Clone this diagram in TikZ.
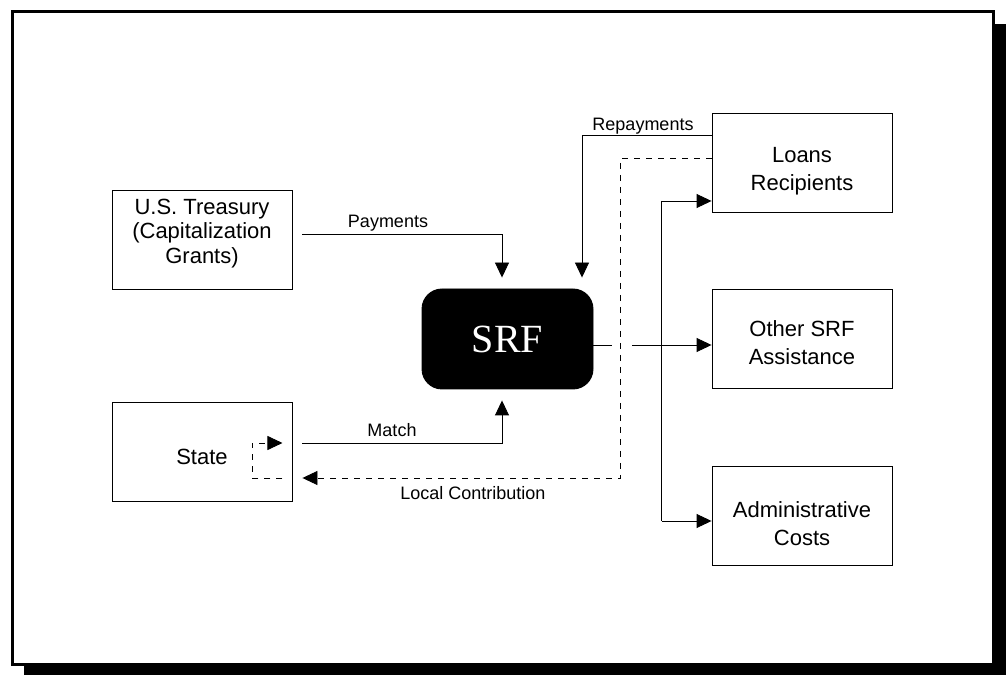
\documentclass[tikz,border=0pt]{standalone}
\usepackage{fontspec}
\setmainfont{Liberation Sans}
\newfontfamily\srffont{Liberation Serif}
\usetikzlibrary{arrows.meta}

\tikzset{
  box/.style={draw, line width=0.9pt, minimum width=180pt, minimum height=99pt,
    align=center, inner sep=0pt, font=\fontsize{22}{28}\selectfont},
  lbl/.style={inner sep=0pt, font=\fontsize{18}{22}\selectfont},
  link/.style={line width=0.9pt},
  flow/.style={link, -{Triangle[length=15pt,width=14pt]}},
  back/.style={flow, dash pattern=on 6pt off 6pt},
}

\begin{document}
\begin{tikzpicture}[x=1pt,y=1pt]
\useasboundingbox (0,0) rectangle (1006,675);

% frame and its shadow
\fill (24,0) rectangle (1006,651);
\draw[line width=3pt, fill=white] (12.5,10.5) rectangle (993.5,663);

% boxes
\node[box, font=\fontsize{22}{24.5}\selectfont, text depth=18pt] (treasury) at (202,435) {U.S. Treasury\\(Capitalization\\Grants)};
\node[box, text height=26pt] (state) at (202,223.5) {State};
\node[box, fill=black, text=white, rounded corners=20pt, minimum width=171pt, minimum height=100pt,
  font=\srffont\fontsize{40}{40}\selectfont] (srf) at (507.5,336) {SRF};
\node[box, text height=60pt] (loans) at (802,512.5) {Loans\\Recipients};
\node[box, text height=52pt] (other) at (802,336) {Other SRF\\Assistance};
\node[box, text height=60pt] (admin) at (802,159) {Administrative\\Costs};

% into the fund
\draw[flow, shorten <=10pt, shorten >=11pt] ([yshift=6pt]treasury.east) -| ([xshift=-5.5pt]srf.north);
\node[lbl, anchor=base] (lpay) at (388,447) {Payments};

\draw[flow, shorten >=11pt] ([yshift=27.5pt]loans.west) -| ([xshift=74.5pt]srf.north);
\node[lbl, anchor=base] (lrepay) at (643,544) {Repayments};

\draw[flow, shorten <=10pt, shorten >=11pt] ([yshift=8.5pt]state.east) -| ([xshift=-5.5pt]srf.south);
\node[lbl, anchor=base] (lmatch) at (392,238) {Match};

% local contribution
\draw[back, shorten >=10pt] ([yshift=4.5pt]loans.west) -- ++(-91,0) |- ([yshift=-26.5pt]state.east);
\draw[back] ([shift={(-10,-26.5)}]state.east) -| ++(-30,35) -- ++(30,0);
\node[lbl, anchor=base] (llocal) at (473,176) {Local Contribution};

% out of the fund
\coordinate (bustop) at ([shift={(-50,-38.5)}]loans.west);
\coordinate (busbot) at ([shift={(-50,-5)}]admin.west);
\draw[link] ([yshift=-6pt]srf.east) -- ++(19,0);
\draw[flow] ([shift={(39,-6)}]srf.east) -- ([yshift=-6pt]other.west);
\draw[link] (bustop) -- (busbot);
\draw[flow] (bustop) -- (bustop -| loans.west);
\draw[flow] (busbot) -- (busbot -| admin.west);

\end{tikzpicture}
\end{document}
